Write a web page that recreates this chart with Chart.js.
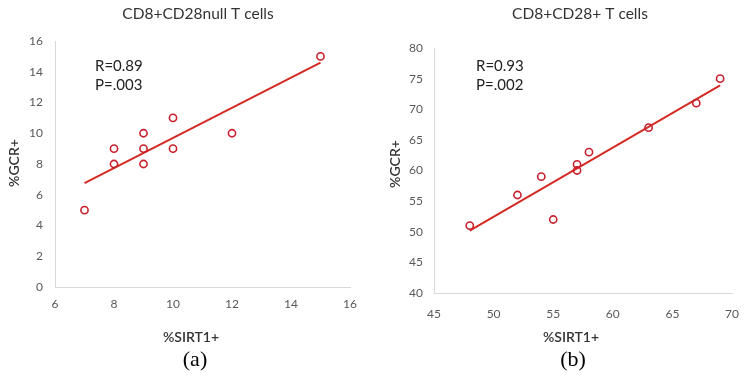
<!DOCTYPE html>
<html><head><meta charset="utf-8">
<script src="https://cdn.jsdelivr.net/npm/chart.js@4/dist/chart.umd.min.js"></script>
<style>
html,body{margin:0;padding:0;background:#fff;}
#wrap{position:relative;width:753px;height:378px;}
.pane{position:absolute;top:0;height:378px;}
</style></head>
<body>
<div id="wrap">
  <div class="pane" style="left:0;width:376px"><canvas id="ca" width="376" height="378"></canvas></div>
  <div class="pane" style="left:376px;width:377px"><canvas id="cb" width="377" height="378"></canvas></div>
</div>
<script>
// Panel (a): CD8+CD28null T cells
const sirtA = [7, 8, 8, 9, 9, 9, 10, 10, 12, 15];
const gcrA  = [5, 8, 9, 8, 9, 10, 9, 11, 10, 15];
const trendXA = [7, 15];
const trendYA = [6.75, 14.6];
const xTicksA = [6, 8, 10, 12, 14, 16];
const yTicksA = [0, 2, 4, 6, 8, 10, 12, 14, 16];

// Panel (b): CD8+CD28+ T cells
const sirtB = [48, 52, 54, 55, 57, 57, 58, 63, 67, 69];
const gcrB  = [51, 56, 59, 52, 61, 60, 63, 67, 71, 75];
const trendXB = [48, 69];
const trendYB = [50.2, 73.9];
const xTicksB = [45, 50, 55, 60, 65, 70];
const yTicksB = [40, 45, 50, 55, 60, 65, 70, 75, 80];

const FONT = 'Lato, "Open Sans", sans-serif';

const textPlugin = {
  id: 'panelText',
  afterDraw(chart, args, opts) {
    const ctx = chart.ctx;
    (opts.items || []).forEach(it => {
      ctx.save();
      ctx.font = it.font;
      ctx.fillStyle = it.color;
      ctx.textAlign = it.align || 'center';
      ctx.textBaseline = 'middle';
      ctx.translate(it.x, it.y);
      if (it.rot) ctx.rotate(it.rot);
      ctx.fillText(it.text, 0, 0);
      ctx.restore();
    });
  }
};

function makeChart(id, xs, ys, tx, ty, xt, yt, geo, texts) {
  const pts = xs.map((x, i) => ({x: x, y: ys[i]}));
  const line = tx.map((x, i) => ({x: x, y: ty[i]}));
  return new Chart(document.getElementById(id), {
    type: 'scatter',
    data: {
      datasets: [
        {
          type: 'line', data: line, borderColor: '#d42a24', borderWidth: 2,
          pointRadius: 0, fill: false, order: 2
        },
        {
          data: pts, pointStyle: 'circle', pointRadius: 3.6,
          pointBorderWidth: 1.6, pointBorderColor: '#c8202c',
          pointBackgroundColor: 'rgba(255,255,255,0)', order: 1
        }
      ]
    },
    options: {
      responsive: false, animation: false,
      layout: {padding: {left: 0, top: geo.top, right: geo.right, bottom: geo.bottom}},
      plugins: {legend: {display: false}, tooltip: {enabled: false}, title: {display: false},
        panelText: {items: texts}},
      scales: {
        x: {
          type: 'linear', min: xt[0], max: xt[xt.length - 1],
          afterBuildTicks: s => { s.ticks = xt.map(v => ({value: v})); },
          afterFit: s => { s.height = geo.xh; },
          grid: {display: false, drawTicks: false},
          border: {display: true, color: '#d9d9d9', width: 1},
          ticks: {color: '#595959', font: {family: FONT, size: 12}, padding: geo.xpad, maxRotation: 0}
        },
        y: {
          type: 'linear', min: yt[0], max: yt[yt.length - 1],
          afterBuildTicks: s => { s.ticks = yt.map(v => ({value: v})); },
          afterFit: s => { s.width = geo.left; },
          grid: {display: false, drawTicks: false},
          border: {display: true, color: '#d9d9d9', width: 1},
          ticks: {color: '#595959', font: {family: FONT, size: 12}, padding: geo.ypad}
        }
      }
    },
    plugins: [textPlugin]
  });
}

const titleFont = '15.5px ' + FONT;
const axisFont = '600 14px ' + FONT;
const annFont = '15px ' + FONT;
const capFont = '22px "Liberation Serif", "Times New Roman", serif';

makeChart('ca', sirtA, gcrA, trendXA, trendYA, xTicksA, yTicksA,
  {left: 55, top: 41, right: 26, bottom: 61, xh: 30, xpad: 10, ypad: 12},
  [
    {text: 'CD8+CD28null T cells', x: 198, y: 14, font: titleFont, color: '#333'},
    {text: '%GCR+', x: 14, y: 163, rot: -Math.PI / 2, font: axisFont, color: '#333'},
    {text: '%SIRT1+', x: 191, y: 337, font: axisFont, color: '#333'},
    {text: 'R=0.89', x: 95, y: 66, align: 'left', font: annFont, color: '#222'},
    {text: 'P=.003', x: 95, y: 85, align: 'left', font: annFont, color: '#222'},
    {text: '(a)', x: 195, y: 360, font: capFont, color: '#000'}
  ]);

makeChart('cb', sirtB, gcrB, trendXB, trendYB, xTicksB, yTicksB,
  {left: 58, top: 48, right: 14, bottom: 55, xh: 30, xpad: 14, ypad: 11},
  [
    {text: 'CD8+CD28+ T cells', x: 204, y: 14, font: titleFont, color: '#333'},
    {text: '%GCR+', x: 19, y: 164, rot: -Math.PI / 2, font: axisFont, color: '#333'},
    {text: '%SIRT1+', x: 195, y: 337, font: axisFont, color: '#333'},
    {text: 'R=0.93', x: 100, y: 66, align: 'left', font: annFont, color: '#222'},
    {text: 'P=.002', x: 100, y: 85, align: 'left', font: annFont, color: '#222'},
    {text: '(b)', x: 197, y: 360, font: capFont, color: '#000'}
  ]);
</script>
</body></html>
